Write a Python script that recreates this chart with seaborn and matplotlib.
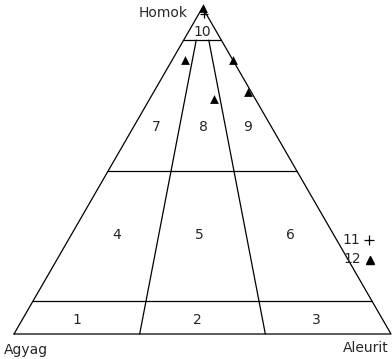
import numpy as np
import pandas as pd
import matplotlib
matplotlib.use("Agg")
import matplotlib.pyplot as plt
import seaborn as sns

# Corner names of the ternary grain-size diagram
label_top, label_left, label_right = "Homok", "Agyag", "Aleurit"

# Class boundaries: sand percentages of the horizontal lines
sand_levels = [10, 50, 90]
# silt / (silt + clay) ratios of the rays dividing the classes
silt_ratios = [1 / 3, 2 / 3]

# Class numbers and a composition inside each class (sand, silt, clay %)
class_ids = ["1", "2", "3", "4", "5", "6", "7", "8", "9", "10"]
class_sand = [4.3, 4.3, 4.3, 30.3, 30.3, 30.3, 63.3, 63.3, 63.3, 92.5]
class_silt = [14.6, 46.4, 78.0, 12.2, 33.9, 58.3, 6.0, 18.5, 30.4, 3.75]
class_clay = [81.1, 49.3, 17.7, 57.5, 35.8, 11.4, 30.7, 18.2, 6.3, 3.75]

# Samples, series 11 (+)
s11_sand = [98.0]
s11_silt = [1.5]
s11_clay = [0.5]
# Samples, series 12 (filled triangle)
s12_sand = [100.0, 84.0, 84.0, 72.0, 74.0]
s12_silt = [0.0, 3.3, 16.0, 17.0, 25.0]
s12_clay = [0.0, 12.7, 0.0, 11.0, 1.0]

H = np.sqrt(3) / 2


def tern(sand, silt, clay):
    sand, silt, clay = (np.asarray(v, dtype=float) for v in (sand, silt, clay))
    tot = sand + silt + clay
    s, t = sand / tot, silt / tot
    return t + s / 2, s * H


# Line segments of the diagram
segs = []
# outer triangle
segs.append(([0, 0.5, 1, 0], [0, H, 0, 0]))
# horizontal sand levels
for lv in sand_levels:
    s = lv / 100
    segs.append(([s / 2, 1 - s / 2], [s * H, s * H]))
# dividing rays up to the uppermost level
top = sand_levels[-1] / 100
for r in silt_ratios:
    x0, y0 = tern(0, r, 1 - r)
    x1, y1 = tern(top, (1 - top) * r, (1 - top) * (1 - r))
    segs.append(([x0, x1], [y0, y1]))

rows = []
for i, (xs, ys) in enumerate(segs):
    for k, (x, y) in enumerate(zip(xs, ys)):
        rows.append({"x": float(x), "y": float(y), "seg": i, "order": k})
lines = pd.DataFrame(rows)

sns.set_style("white")
plt.rcParams["font.family"] = ["DejaVu Sans"]

fig = plt.figure(figsize=(3.92, 3.59), dpi=100)
ax = fig.add_axes([0, 0, 1, 1])

sns.lineplot(data=lines, x="x", y="y", units="seg", estimator=None, sort=False,
             color="black", lw=0.9, ax=ax, legend=False)

# samples
x12, y12 = tern(s12_sand, s12_silt, s12_clay)
x11, y11 = tern(s11_sand, s11_silt, s11_clay)
sns.scatterplot(x=x11, y=y11, marker="+", color="black", s=36,
                linewidth=0.9, ax=ax, legend=False)
sns.scatterplot(x=x12, y=y12, marker="^", color="black", s=40,
                linewidth=0, ax=ax, legend=False)

# class numbers
fs = 10
cx, cy = tern(class_sand, class_silt, class_clay)
for lab, x, y in zip(class_ids, cx, cy):
    ax.text(x, y, lab, ha="center", va="center", fontsize=fs)

# corner names
ax.text(0.4615, 0.851, label_top, ha="right", va="center", fontsize=fs)
ax.text(-0.027, -0.042, label_left, ha="left", va="center", fontsize=fs)
ax.text(0.993, -0.038, label_right, ha="right", va="center", fontsize=fs)

# key to the sample symbols
ax.text(0.896, 0.249, "11", ha="center", va="center", fontsize=fs)
ax.text(0.898, 0.199, "12", ha="center", va="center", fontsize=fs)
ax.plot([0.942], [0.249], marker="+", color="black", ms=6.5, mew=0.9, ls="none")
ax.plot([0.943], [0.197], marker="^", color="black", ms=5.5, ls="none")

ax.set_xlim(-14 / 377, 378 / 377)
ax.set_ylim(-25 / 377, 334 / 377)
ax.axis("off")

fig.savefig("out.png", dpi=100, facecolor="white")
